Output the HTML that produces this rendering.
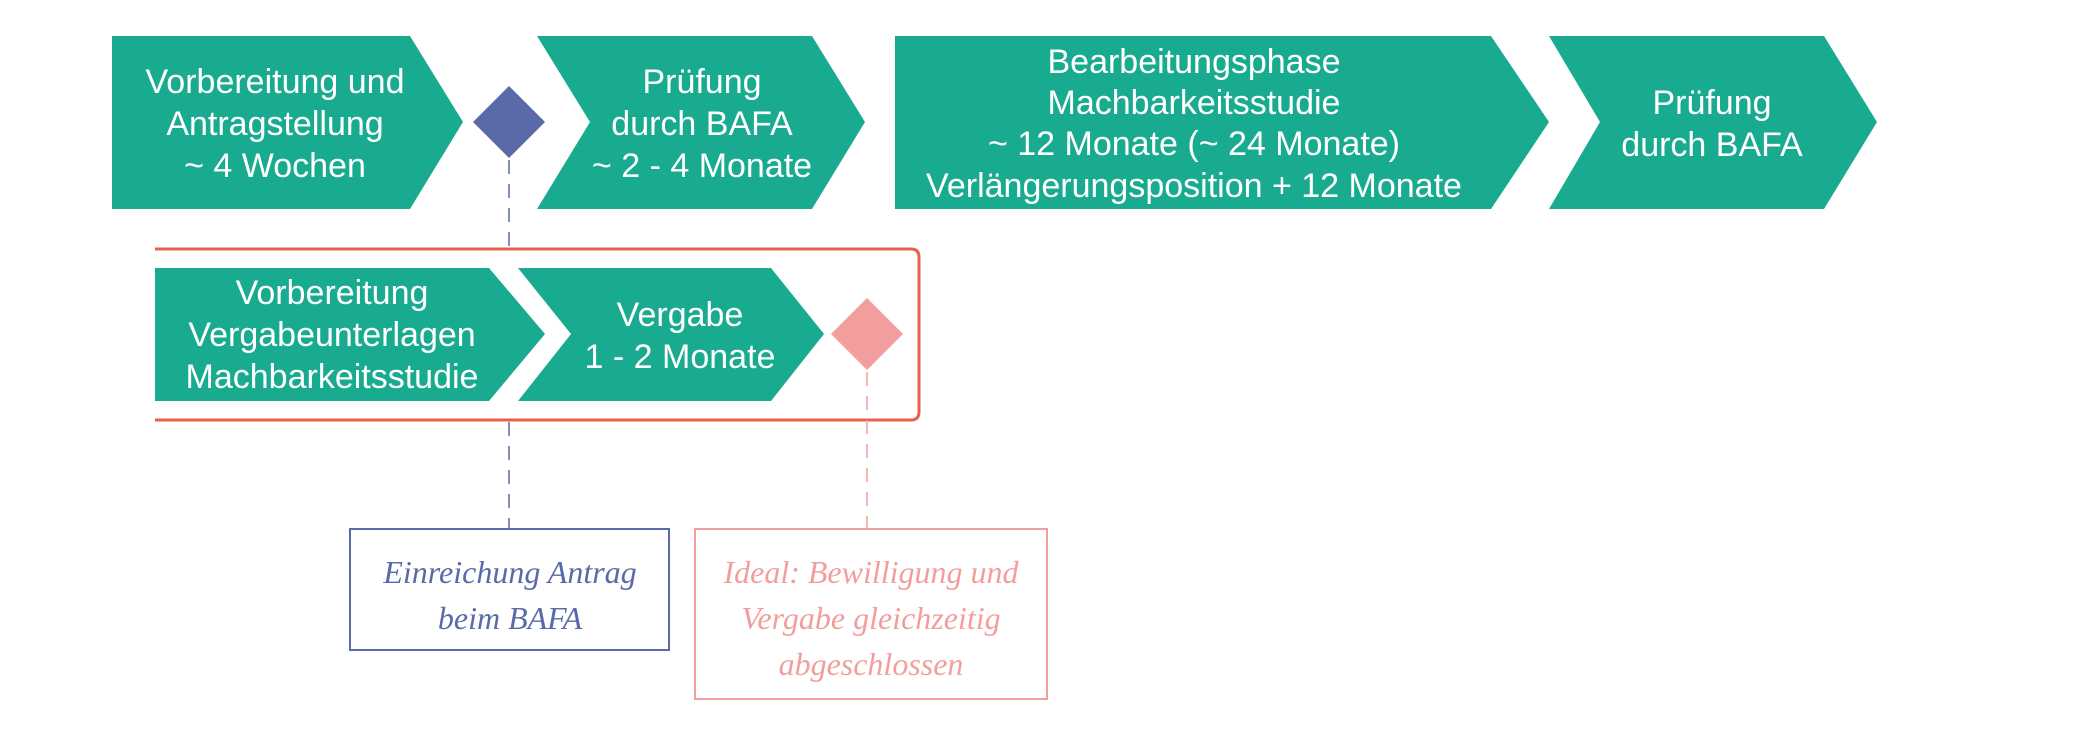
<!DOCTYPE html>
<html><head><meta charset="utf-8"><style>html,body{margin:0;padding:0;background:#fff}svg{display:block}</style></head>
<body>
<svg width="2073" height="737" viewBox="0 0 2073 737" xmlns="http://www.w3.org/2000/svg">
<g fill="#19ab8f">
<polygon points="112,36 410,36 463,122 410,209 112,209"/>
<polygon points="537,36 812,36 865,122 812,209 537,209 590,122"/>
<polygon points="895,36 1491,36 1549,122 1491,209 895,209"/>
<polygon points="1549,36 1824,36 1877,122 1824,209 1549,209 1600,122"/>
<polygon points="155,268 489,268 545,334 489,401 155,401"/>
<polygon points="518,268 771,268 824,334 771,401 518,401 571,334"/>
</g>
<polygon points="509,86 545,122 509,158 473,122" fill="#5a69a8"/>
<polygon points="867,298 903,334 867,370 831,334" fill="#f29e9c"/>
<path d="M155,249 H911 Q919,249 919,257 V412 Q919,420 911,420 H155" fill="none" stroke="#e8604c" stroke-width="3"/>
<g stroke-width="1.5" stroke-dasharray="14,10" fill="none">
<line x1="509" y1="160" x2="509" y2="248" stroke="#5a69a8"/>
<line x1="509" y1="422" x2="509" y2="529" stroke="#5a69a8"/>
<line x1="867" y1="372" x2="867" y2="529" stroke="#f29e9c"/>
</g>
<rect x="350" y="529" width="319" height="121" fill="none" stroke="#5a69a8" stroke-width="2"/>
<rect x="695" y="529" width="352" height="170" fill="none" stroke="#f29e9c" stroke-width="2"/>
<g fill="#fff" font-family="'Liberation Sans',sans-serif" font-size="34" text-anchor="middle">
<text x="275" y="93">Vorbereitung und</text>
<text x="275" y="135">Antragstellung</text>
<text x="275" y="177">~ 4 Wochen</text>
<text x="702" y="93">Prüfung</text>
<text x="702" y="135">durch BAFA</text>
<text x="702" y="177">~ 2 - 4 Monate</text>
<text x="1194" y="73">Bearbeitungsphase</text>
<text x="1194" y="114">Machbarkeitsstudie</text>
<text x="1194" y="155">~ 12 Monate (~ 24 Monate)</text>
<text x="1194" y="197">Verlängerungsposition + 12 Monate</text>
<text x="1712" y="114">Prüfung</text>
<text x="1712" y="156">durch BAFA</text>
<text x="332" y="304">Vorbereitung</text>
<text x="332" y="346">Vergabeunterlagen</text>
<text x="332" y="388">Machbarkeitsstudie</text>
<text x="680" y="326">Vergabe</text>
<text x="680" y="368">1 - 2 Monate</text>
</g>
<g font-family="'Liberation Serif',serif" font-style="italic" font-size="32" text-anchor="middle">
<text x="510" y="583" fill="#5a69a8">Einreichung Antrag</text>
<text x="510" y="629" fill="#5a69a8">beim BAFA</text>
<text x="871" y="583" fill="#f29e9c">Ideal: Bewilligung und</text>
<text x="871" y="629" fill="#f29e9c">Vergabe gleichzeitig</text>
<text x="871" y="675" fill="#f29e9c">abgeschlossen</text>
</g>
</svg>
</body></html>
